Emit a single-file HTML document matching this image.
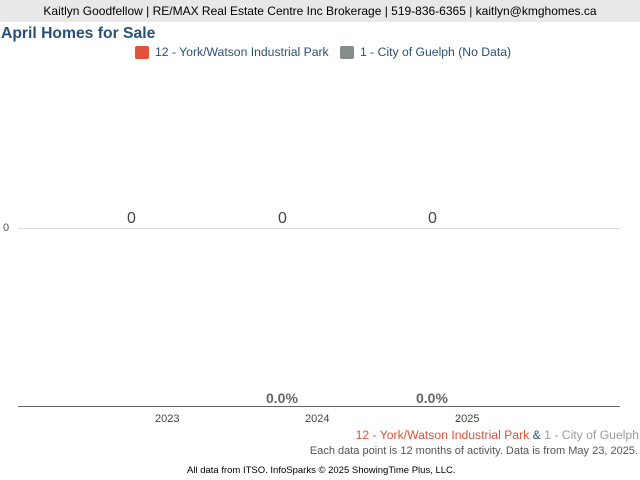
<!DOCTYPE html>
<html><head><style>
body{margin:0;width:640px;height:480px;background:#fff;font-family:"Liberation Sans",sans-serif;position:relative;overflow:hidden}
.a{position:absolute;white-space:nowrap}
</style></head><body>
<div class="a" style="left:0;top:0;width:640px;height:22px;background:#e8e8e8;font-size:12px;line-height:22px;text-align:center;color:#000">Kaitlyn Goodfellow | RE/MAX Real Estate Centre Inc Brokerage | 519-836-6365 | kaitlyn@kmghomes.ca</div>
<div class="a" style="left:1px;top:25px;font-size:15.7px;font-weight:bold;color:#2a5078">April Homes for Sale</div>
<div class="a" style="left:135px;top:46px;width:14px;height:13px;background:#e0523a;border-radius:2px"></div>
<div class="a" style="left:155px;top:45px;font-size:12.2px;color:#2a5078">12 - York/Watson Industrial Park</div>
<div class="a" style="left:340px;top:46px;width:14px;height:13px;background:#858c8c;border-radius:2px"></div>
<div class="a" style="left:360px;top:45px;font-size:12.2px;color:#2a5078">1 - City of Guelph (No Data)</div>
<div class="a" style="left:18px;top:228px;width:602px;height:1px;background:#ddd"></div>
<div class="a" style="left:3px;top:222px;font-size:11px;color:#555">0</div>
<div class="a" style="left:127px;top:210px;font-size:16px;color:#444">0</div>
<div class="a" style="left:278px;top:210px;font-size:16px;color:#444">0</div>
<div class="a" style="left:428px;top:210px;font-size:16px;color:#444">0</div>
<div class="a" style="left:266px;top:390px;font-size:14px;font-weight:bold;color:#666">0.0%</div>
<div class="a" style="left:416px;top:390px;font-size:14px;font-weight:bold;color:#666">0.0%</div>
<div class="a" style="left:18px;top:406px;width:602px;height:1px;background:#666"></div>
<div class="a" style="left:155px;top:413px;font-size:11px;color:#444">2023</div>
<div class="a" style="left:305px;top:413px;font-size:11px;color:#444">2024</div>
<div class="a" style="left:455px;top:413px;font-size:11px;color:#444">2025</div>
<div class="a" style="right:1px;top:428px;font-size:12.2px;color:#e0523a">12 - York/Watson Industrial Park <span style="color:#2a5078">&amp;</span> <span style="color:#999">1 - City of Guelph</span></div>
<div class="a" style="right:2px;top:445px;font-size:11px;color:#555">Each data point is 12 months of activity. Data is from May 23, 2025.</div>
<div class="a" style="left:187px;top:465px;font-size:9.5px;color:#000">All data from ITSO. InfoSparks © 2025 ShowingTime Plus, LLC.</div>
</body></html>
